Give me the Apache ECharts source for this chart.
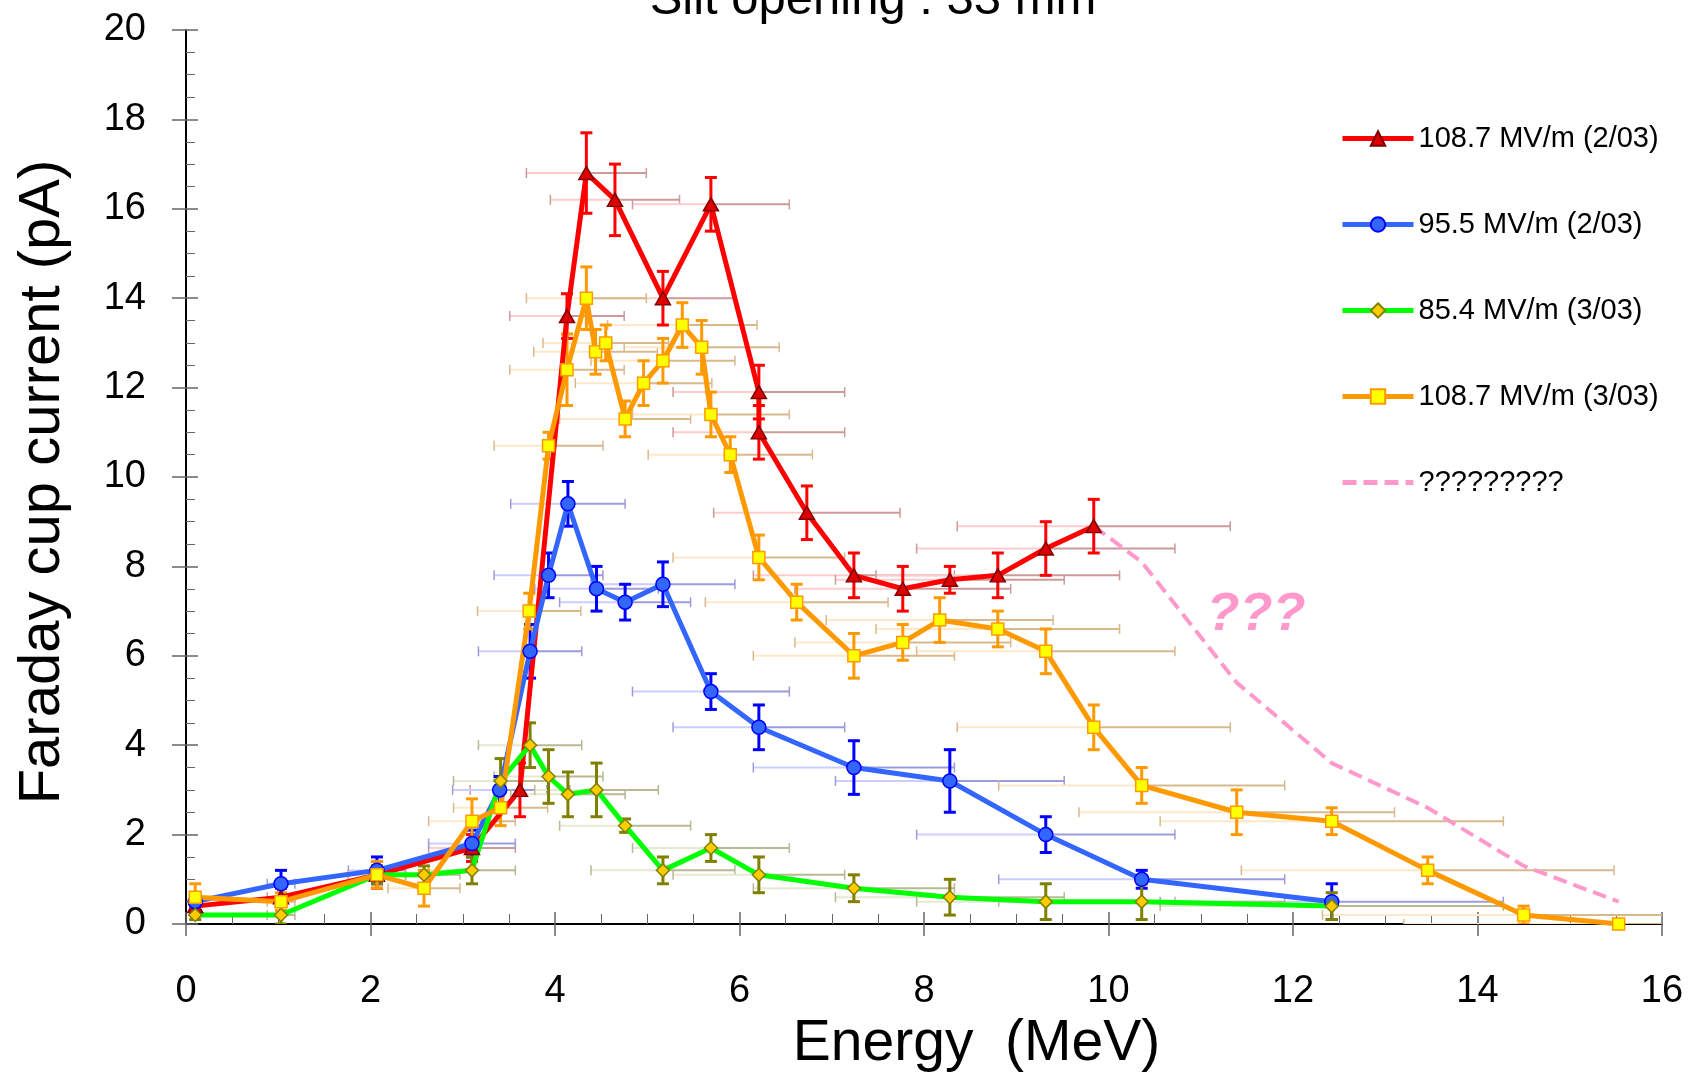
<!DOCTYPE html>
<html>
<head>
<meta charset="utf-8">
<title>Faraday cup current vs energy</title>
<script src="https://cdn.jsdelivr.net/npm/echarts@6/dist/echarts.min.js"></script>
<style>
  html, body { margin: 0; padding: 0; background: #fff; }
  #chart { width: 1697px; height: 1083px; }
</style>
</head>
<body>
<div id="chart"></div>
<script>
var plain = '"Liberation Sans", Arial, sans-serif';

// 108.7 MV/m (2/03)
var redE = [0.1, 1.03, 2.07, 3.1, 3.62, 4.13, 4.34, 4.65, 5.17, 5.69, 6.21, 6.21, 6.73, 7.24, 7.77, 8.28, 8.8, 9.32, 9.84];
var redI = [0.4, 0.6, 1.1, 1.7, 3.0, 13.6, 16.8, 16.2, 14.0, 16.1, 11.9, 11.0, 9.2, 7.8, 7.5, 7.7, 7.8, 8.4, 8.9];
var redDI = [0.2, 0.2, 0.3, 0.3, 0.6, 0.5, 0.9, 0.8, 0.6, 0.6, 0.6, 0.6, 0.6, 0.5, 0.5, 0.3, 0.5, 0.6, 0.6];
var redDE = [0.02, 0.15, 0.31, 0.47, 0.54, 0.62, 0.65, 0.7, 0.78, 0.85, 0.93, 0.93, 1.01, 1.09, 1.17, 1.24, 1.32, 1.4, 1.48];

// 95.5 MV/m (2/03)
var blueE = [0.1, 1.03, 2.07, 3.1, 3.4, 3.73, 3.93, 4.14, 4.45, 4.76, 5.17, 5.69, 6.21, 7.24, 8.28, 9.32, 10.36, 12.42];
var blueI = [0.5, 0.9, 1.2, 1.8, 3.0, 6.1, 7.8, 9.4, 7.5, 7.2, 7.6, 5.2, 4.4, 3.5, 3.2, 2.0, 1.0, 0.5];
var blueDI = [0.1, 0.3, 0.3, 0.3, 0.3, 0.6, 0.5, 0.5, 0.5, 0.4, 0.5, 0.4, 0.5, 0.6, 0.7, 0.4, 0.2, 0.4];
var blueDE = [0.02, 0.15, 0.31, 0.47, 0.51, 0.56, 0.59, 0.62, 0.67, 0.71, 0.78, 0.85, 0.93, 1.09, 1.24, 1.4, 1.55, 1.86];

// 85.4 MV/m (3/03)
var greenE = [0.1, 1.03, 2.07, 2.58, 3.1, 3.41, 3.73, 3.93, 4.14, 4.45, 4.76, 5.17, 5.69, 6.21, 7.24, 8.28, 9.32, 10.36, 12.42];
var greenI = [0.2, 0.2, 1.1, 1.1, 1.2, 3.2, 4.0, 3.3, 2.9, 3.0, 2.2, 1.2, 1.7, 1.1, 0.8, 0.6, 0.5, 0.5, 0.4];
var greenDI = [0.1, 0.2, 0.2, 0.2, 0.3, 0.5, 0.5, 0.6, 0.5, 0.6, 0.15, 0.3, 0.3, 0.4, 0.3, 0.4, 0.4, 0.4, 0.3];
var greenDE = [0.02, 0.15, 0.31, 0.39, 0.47, 0.51, 0.56, 0.59, 0.62, 0.67, 0.71, 0.78, 0.85, 0.93, 1.09, 1.24, 1.4, 1.55, 1.86];

// 108.7 MV/m (3/03)
var orangeE = [0.1, 1.03, 2.07, 2.58, 3.1, 3.41, 3.72, 3.93, 4.13, 4.34, 4.44, 4.55, 4.76, 4.96, 5.17, 5.38, 5.59, 5.69, 5.9, 6.21,
               6.62, 7.24, 7.77, 8.17, 8.8, 9.32, 9.84, 10.36, 11.39, 12.42, 13.46, 14.5, 15.53];
var orangeI = [0.6, 0.5, 1.1, 0.8, 2.3, 2.6, 7.0, 10.7, 12.4, 14.0, 12.8, 13.0, 11.3, 12.1, 12.6, 13.4, 12.9, 11.4, 10.5, 8.2,
               7.2, 6.0, 6.3, 6.8, 6.6, 6.1, 4.4, 3.1, 2.5, 2.3, 1.2, 0.2, 0.0];
var orangeDI = [0.3, 0.2, 0.3, 0.4, 0.5, 0.4, 0.4, 0.3, 0.8, 0.7, 0.5, 0.4, 0.4, 0.5, 0.5, 0.5, 0.6, 0.5, 0.4, 0.5,
                0.4, 0.5, 0.4, 0.5, 0.4, 0.5, 0.5, 0.4, 0.5, 0.3, 0.3, 0.2, 0.1];
var orangeDE = [0.02, 0.15, 0.31, 0.39, 0.47, 0.51, 0.56, 0.59, 0.62, 0.65, 0.67, 0.68, 0.71, 0.74, 0.78, 0.81, 0.84, 0.85, 0.89, 0.93,
                0.99, 1.09, 1.17, 1.23, 1.32, 1.4, 1.48, 1.55, 1.71, 1.86, 2.02, 2.18, 2.33];

// ????????? (guess)
var pinkE = [9.84, 10.36, 11.39, 12.42, 13.46, 14.5, 15.53];
var pinkI = [8.9, 8.1, 5.4, 3.6, 2.6, 1.3, 0.5];

var xTicks = [0, 2, 4, 6, 8, 10, 12, 14, 16];
var yTicks = [0, 2, 4, 6, 8, 10, 12, 14, 16, 18, 20];

var names = ['108.7 MV/m (2/03)', '95.5 MV/m (2/03)', '85.4 MV/m (3/03)', '108.7 MV/m (3/03)', '?????????'];

function pts(E, I) {
  return E.map(function (e, i) { return [e, I[i]]; });
}

// faint horizontal energy error bars (left half lighter)
function hBars(E, I, dE, light, dark) {
  return {
    type: 'custom', z: 1, clip: true, silent: true,
    data: E.map(function (e, i) { return [e, I[i], dE[i]]; }),
    encode: { x: 0, y: 1 },
    renderItem: function (params, api) {
      var x = api.value(0), y = api.value(1), d = api.value(2);
      var l = api.coord([x - d, y]), c = api.coord([x, y]), r = api.coord([x + d, y]);
      return {
        type: 'group',
        children: [
          { type: 'line', shape: { x1: l[0], y1: l[1], x2: c[0], y2: c[1] }, style: { stroke: light, lineWidth: 2 } },
          { type: 'line', shape: { x1: c[0], y1: c[1], x2: r[0], y2: r[1] }, style: { stroke: dark, lineWidth: 2 } },
          { type: 'line', shape: { x1: l[0], y1: l[1] - 5, x2: l[0], y2: l[1] + 5 }, style: { stroke: dark, lineWidth: 1.5 } },
          { type: 'line', shape: { x1: r[0], y1: r[1] - 5, x2: r[0], y2: r[1] + 5 }, style: { stroke: dark, lineWidth: 1.5 } }
        ]
      };
    }
  };
}

// vertical current error bars with caps
function vBars(E, I, dI, color) {
  return {
    type: 'custom', z: 2, clip: true, silent: true,
    data: E.map(function (e, i) { return [e, I[i], dI[i]]; }),
    encode: { x: 0, y: 1 },
    renderItem: function (params, api) {
      var x = api.value(0), y = api.value(1), d = api.value(2);
      var t = api.coord([x, y + d]), b = api.coord([x, y - d]);
      var st = { stroke: color, lineWidth: 3 };
      return {
        type: 'group',
        children: [
          { type: 'line', shape: { x1: t[0], y1: t[1], x2: b[0], y2: b[1] }, style: st },
          { type: 'line', shape: { x1: t[0] - 6, y1: t[1], x2: t[0] + 6, y2: t[1] }, style: st },
          { type: 'line', shape: { x1: b[0] - 6, y1: b[1], x2: b[0] + 6, y2: b[1] }, style: st }
        ]
      };
    }
  };
}

function lineSeries(name, E, I, lineColor, symbol, size, fill, border) {
  return {
    name: name, type: 'line', z: 3, data: pts(E, I),
    symbol: symbol, symbolSize: size, showSymbol: true,
    lineStyle: { color: lineColor, width: 5 },
    itemStyle: { color: fill, borderColor: border, borderWidth: 1.5 },
    emphasis: { disabled: true }
  };
}

var chart = echarts.init(document.getElementById('chart'));

var tickStyle = { color: '#666', width: 1.5 };

var option = {
  animation: false,
  backgroundColor: '#fff',
  grid: { left: 186, right: 35, top: 30, bottom: 159, outerBoundsMode: 'none', containLabel: false },
  legend: {
    orient: 'vertical', left: 1335, top: 119,
    itemWidth: 71, itemHeight: 18, itemGap: 57,
    lineStyle: { width: 5 },
    textStyle: { fontFamily: plain, fontSize: 29, color: '#000', lineHeight: 28 },
    data: [names[0], names[1], names[2], names[3], { name: names[4], itemStyle: { opacity: 0 } }],
    selectedMode: false
  },
  xAxis: [{
    type: 'value', min: 0, max: 16, interval: 2,
    axisLine: { show: true, onZero: false, lineStyle: { color: '#000', width: 2 } },
    axisTick: { show: true, inside: true, length: 12, lineStyle: tickStyle },
    minorTick: { show: true, splitNumber: 4, length: 10, lineStyle: { color: '#666', width: 1 } },
    splitLine: { show: false },
    axisLabel: {
      margin: 49, fontFamily: plain, fontSize: 38, color: '#000',
      customValues: xTicks
    },
    name: 'Energy  (MeV)', nameLocation: 'middle', nameGap: 92, nameMoveOverlap: false,
    nameTextStyle: { fontFamily: plain, fontSize: 57, color: '#000', padding: [0, 0, 0, 105] }
  }, {
    type: 'value', min: 0, max: 16, interval: 2, position: 'bottom',
    axisLine: { show: false }, axisLabel: { show: false }, splitLine: { show: false },
    axisTick: { show: true, inside: false, length: 12, lineStyle: tickStyle }
  }],
  yAxis: [{
    type: 'value', min: 0, max: 20, interval: 2,
    axisLine: { show: true, onZero: false, lineStyle: { color: '#000', width: 2 } },
    axisTick: { show: true, inside: true, length: 12, lineStyle: tickStyle },
    minorTick: { show: true, splitNumber: 4, length: 9, lineStyle: { color: '#666', width: 1 } },
    splitLine: { show: false },
    axisLabel: {
      margin: 40, fontFamily: plain, fontSize: 38, color: '#000',
      customValues: yTicks
    },
    name: 'Faraday cup current (pA)', nameLocation: 'middle', nameGap: 114, nameRotate: 90, nameMoveOverlap: false,
    nameTextStyle: { fontFamily: plain, fontSize: 58, color: '#000', padding: [0, 10, 0, 0] }
  }, {
    type: 'value', min: 0, max: 20, interval: 2, position: 'left',
    axisLine: { show: false }, axisLabel: { show: false }, splitLine: { show: false },
    axisTick: { show: true, inside: false, length: 14, lineStyle: tickStyle }
  }],
  series: [
    hBars(redE, redI, redDE, '#ffcccc', '#cc9a9a'),
    hBars(blueE, blueI, blueDE, '#cdcdff', '#9c9cdc'),
    hBars(greenE, greenI, greenDE, '#e8e8d2', '#b8b892'),
    hBars(orangeE, orangeI, orangeDE, '#ffe8c8', '#d8b98e'),
    vBars(redE, redI, redDI, '#ff0000'),
    vBars(blueE, blueI, blueDI, '#0000ff'),
    vBars(greenE, greenI, greenDI, '#808000'),
    vBars(orangeE, orangeI, orangeDI, '#ff9900'),
    lineSeries(names[0], redE, redI, '#ff0000', 'triangle', [15, 13], '#dd0000', '#800000'),
    lineSeries(names[1], blueE, blueI, '#3366ff', 'circle', 14, '#3366ff', '#0000ff'),
    lineSeries(names[2], greenE, greenI, '#00ff00', 'diamond', [13, 13], '#ffcc00', '#808000'),
    lineSeries(names[3], orangeE, orangeI, '#ff9900', 'rect', [12, 12], '#ffff00', '#ff9900'),
    {
      name: names[4], type: 'line', z: 3, data: pts(pinkE, pinkI), symbol: 'none',
      lineStyle: { color: '#ff99cc', width: 4, type: [14, 7] },
      itemStyle: { color: '#ff99cc' },
      emphasis: { disabled: true }
    }
  ]
};

chart.setOption(option);

// "???" note placed in data space
var noteE = 11.6, noteI = 6.9;
var p = chart.convertToPixel({ gridIndex: 0 }, [noteE, noteI]);
chart.setOption({
  graphic: [{
    type: 'text', x: 873, y: 0,
    style: { text: 'Slit opening : 33 mm', fontFamily: plain, fontSize: 49, fill: '#000', align: 'center', verticalAlign: 'middle' }
  }, {
    type: 'text', x: p[0], y: p[1],
    style: { text: '???', fontFamily: plain, fontSize: 54, fontWeight: 'bold', fontStyle: 'italic', fill: '#ff99cc', align: 'center', verticalAlign: 'middle' }
  }]
});
</script>
</body>
</html>
